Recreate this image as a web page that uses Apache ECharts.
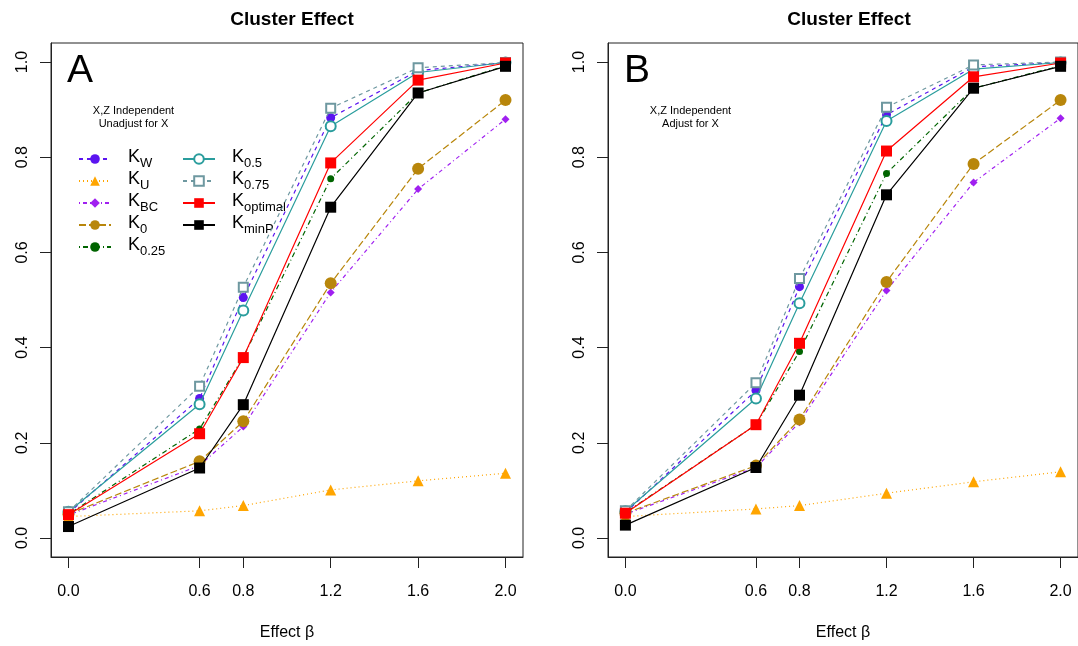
<!DOCTYPE html>
<html>
<head>
<meta charset="utf-8">
<script src="https://cdn.jsdelivr.net/npm/echarts@6/dist/echarts.min.js"></script>
<style>
  html, body { margin: 0; padding: 0; background: #fff; }
  #main { width: 1078px; height: 646px; }
</style>
</head>
<body>
<div id="main"></div>
<script>
var betas = [0, 0.6, 0.8, 1.2, 1.6, 2.0];
var yTicks = [0, 0.2, 0.4, 0.6, 0.8, 1.0];

var names = ['KW', 'KU', 'KBC', 'K0', 'K0.25', 'K0.5', 'K0.75', 'Koptimal', 'KminP'];
var subs = ['W', 'U', 'BC', '0', '0.25', '0.5', '0.75', 'optimal', 'minP'];

// panel A: unadjusted for X
var kW_A    = [0.052, 0.293, 0.505, 0.883, 0.982, 0.999];
var kU_A    = [0.045, 0.057, 0.068, 0.101, 0.120, 0.136];
var kBC_A   = [0.048, 0.152, 0.234, 0.516, 0.733, 0.880];
var k0_A    = [0.050, 0.161, 0.245, 0.535, 0.776, 0.920];
var k025_A  = [0.050, 0.229, 0.380, 0.755, 0.935, 0.992];
var k05_A   = [0.055, 0.281, 0.478, 0.865, 0.978, 0.999];
var k075_A  = [0.055, 0.319, 0.527, 0.903, 0.988, 0.999];
var kOpt_A  = [0.049, 0.219, 0.379, 0.788, 0.962, 0.998];
var kMinP_A = [0.024, 0.147, 0.280, 0.695, 0.935, 0.991];

// panel B: adjusted for X
var kW_B    = [0.053, 0.310, 0.528, 0.889, 0.990, 0.999];
var kU_B    = [0.045, 0.061, 0.068, 0.094, 0.118, 0.139];
var kBC_B   = [0.050, 0.148, 0.243, 0.520, 0.747, 0.882];
var k0_B    = [0.052, 0.152, 0.249, 0.538, 0.786, 0.920];
var k025_B  = [0.053, 0.238, 0.392, 0.766, 0.945, 0.992];
var k05_B   = [0.056, 0.293, 0.493, 0.876, 0.985, 0.999];
var k075_B  = [0.057, 0.326, 0.545, 0.905, 0.994, 1.000];
var kOpt_B  = [0.052, 0.238, 0.409, 0.813, 0.969, 0.998];
var kMinP_B = [0.027, 0.148, 0.300, 0.721, 0.945, 0.991];

var panelA = [kW_A, kU_A, kBC_A, k0_A, k025_A, k05_A, k075_A, kOpt_A, kMinP_A];
var panelB = [kW_B, kU_B, kBC_B, k0_B, k025_B, k05_B, k075_B, kOpt_B, kMinP_B];

var styles = [
  {color: '#5B14F0', symbol: 'circle', size: 9, dash: [4, 4]},
  {color: '#FFA500', symbol: 'triangle', size: 11, dash: [1, 3]},
  {color: '#A020F0', symbol: 'diamond', size: 8, dash: [1, 3, 4, 3]},
  {color: '#B8860B', symbol: 'circle', size: 12, dash: [7, 3]},
  {color: '#006400', symbol: 'circle', size: 7, dash: [1, 3, 5, 3]},
  {color: '#2A9D9D', symbol: 'emptyCircle', size: 10, dash: 'solid'},
  {color: '#6E98A0', symbol: 'emptyRect', size: 9, dash: [4, 4]},
  {color: '#FF0000', symbol: 'rect', size: 11, dash: 'solid'},
  {color: '#000000', symbol: 'rect', size: 11, dash: 'solid'}
];

var FONT = '"Liberation Sans", Arial, Helvetica, sans-serif';

function pairs(vals) {
  return betas.map(function (b, i) { return [b, vals[i]]; });
}

function makeSeries(panel, idx) {
  return panel.map(function (vals, i) {
    var st = styles[i];
    var empty = st.symbol.indexOf('empty') === 0;
    return {
      name: names[i],
      type: 'line',
      xAxisIndex: idx,
      yAxisIndex: idx,
      data: pairs(vals),
      symbol: st.symbol,
      symbolSize: st.size,
      showSymbol: true,
      lineStyle: {color: st.color, width: 1.2, type: st.dash},
      itemStyle: {color: st.color, borderColor: st.color, borderWidth: empty ? 1 : 0},
      emphasis: {disabled: true},
      z: 2 + i
    };
  });
}

function xAxisFor(idx) {
  return {
    gridIndex: idx,
    type: 'value',
    min: -0.08,
    max: 2.08,
    axisLine: {show: true, onZero: false, lineStyle: {color: '#222', width: 1}},
    axisTick: {show: true, length: 11, customValues: betas, lineStyle: {color: '#222'}},
    axisLabel: {
      customValues: betas, margin: 27, fontSize: 16, color: '#000', fontFamily: FONT,
      formatter: function (v) { return v.toFixed(1); }
    },
    splitLine: {show: false},
    name: 'Effect β',
    nameLocation: 'middle',
    nameGap: 68,
    nameTextStyle: {fontSize: 16, color: '#000', fontFamily: FONT}
  };
}

function yAxisFor(idx) {
  return {
    gridIndex: idx,
    type: 'value',
    min: -0.04,
    max: 1.04,
    axisLine: {show: true, onZero: false, lineStyle: {color: '#222', width: 1}},
    axisTick: {show: true, length: 11, customValues: yTicks, lineStyle: {color: '#222'}},
    axisLabel: {
      customValues: yTicks, rotate: 90, margin: 20, fontSize: 16, color: '#000', fontFamily: FONT,
      formatter: function (v) { return v.toFixed(1); }
    },
    splitLine: {show: false}
  };
}

function legendFor(list, left) {
  return {
    data: list,
    left: left,
    top: 143,
    orient: 'vertical',
    itemWidth: 32,
    itemHeight: 12,
    itemGap: 0,
    selectedMode: false,
    formatter: function (name) {
      return '{k|K}{s|' + subs[names.indexOf(name)] + '}';
    },
    textStyle: {
      fontFamily: FONT,
      color: '#000',
      rich: {
        k: {fontSize: 18, lineHeight: 22, padding: [0, 0, 0, 12], verticalAlign: 'top', fontFamily: FONT},
        s: {fontSize: 13, lineHeight: 13, verticalAlign: 'bottom', fontFamily: FONT}
      }
    }
  };
}

// panel letter and the two-line note, placed from the frame's left edge
function noteText(frameLeft, lines, label) {
  return [
    {type: 'text', left: frameLeft + 16, top: 52, style: {text: label, font: '39px ' + FONT, fill: '#000'}},
    {type: 'text', x: frameLeft + 82.5, y: 104, style: {text: lines, font: '11px ' + FONT, fill: '#000', align: 'center', lineHeight: 13}}
  ];
}

var chart = echarts.init(document.getElementById('main'));
chart.setOption({
  animation: false,
  backgroundColor: '#fff',
  title: [
    {text: 'Cluster Effect', left: 287, top: 5, textAlign: 'center',
     textStyle: {fontSize: 19, fontWeight: 'bold', color: '#000', fontFamily: FONT}},
    {text: 'Cluster Effect', left: 844, top: 5, textAlign: 'center',
     textStyle: {fontSize: 19, fontWeight: 'bold', color: '#000', fontFamily: FONT}}
  ],
  grid: [
    {left: 51, right: 555, top: 43, bottom: 87, show: true, borderColor: '#222', borderWidth: 1, backgroundColor: 'transparent'},
    {left: 608, right: -2, top: 43, bottom: 87, show: true, borderColor: '#222', borderWidth: 1, backgroundColor: 'transparent'}
  ],
  xAxis: [xAxisFor(0), xAxisFor(1)],
  yAxis: [yAxisFor(0), yAxisFor(1)],
  legend: [legendFor(names.slice(0, 5), 73), legendFor(names.slice(5), 177)],
  graphic: noteText(51, 'X,Z Independent\nUnadjust for X', 'A')
    .concat(noteText(608, 'X,Z Independent\nAdjust for X', 'B')),
  series: makeSeries(panelA, 0).concat(makeSeries(panelB, 1))
});
</script>
</body>
</html>
